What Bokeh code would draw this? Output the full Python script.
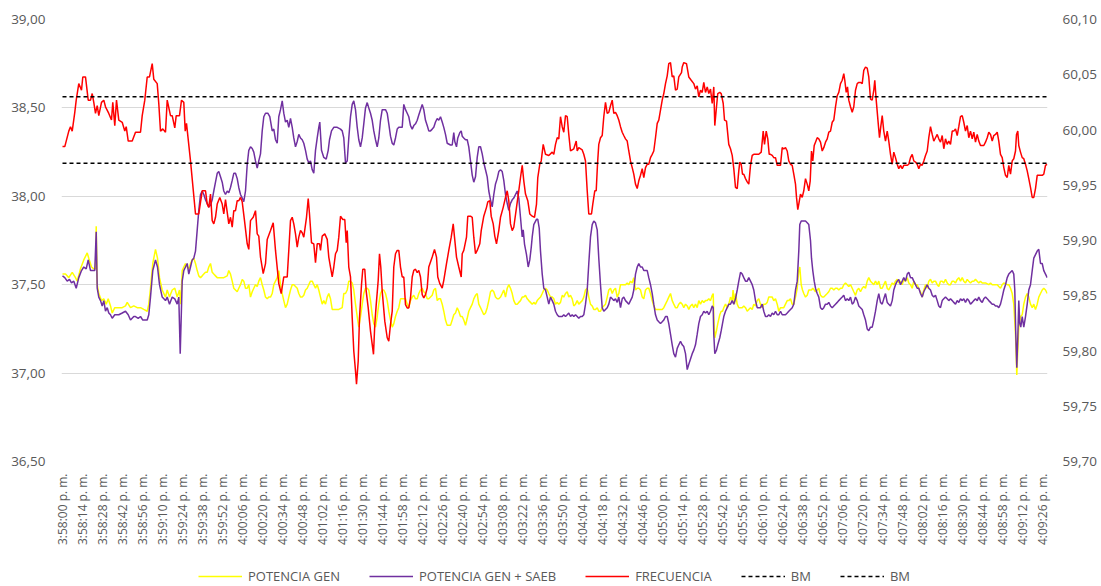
import math
from bokeh.plotting import figure
from bokeh.layouts import column
from bokeh.models import (Range1d, LinearAxis, FixedTicker, Legend, LegendItem,
                          ColumnDataSource, CustomJSTickFormatter)
from bokeh.embed import file_html
from bokeh.resources import INLINE

# ---------------- data (seconds after 3:58:00 p. m., value) ----------------
time_labels = [
    "3:58:00 p. m.", "3:58:14 p. m.", "3:58:28 p. m.", "3:58:42 p. m.", "3:58:56 p. m.",
    "3:59:10 p. m.", "3:59:24 p. m.", "3:59:38 p. m.", "3:59:52 p. m.", "4:00:06 p. m.",
    "4:00:20 p. m.", "4:00:34 p. m.", "4:00:48 p. m.", "4:01:02 p. m.", "4:01:16 p. m.",
    "4:01:30 p. m.", "4:01:44 p. m.", "4:01:58 p. m.", "4:02:12 p. m.", "4:02:26 p. m.",
    "4:02:40 p. m.", "4:02:54 p. m.", "4:03:08 p. m.", "4:03:22 p. m.", "4:03:36 p. m.",
    "4:03:50 p. m.", "4:04:04 p. m.", "4:04:18 p. m.", "4:04:32 p. m.", "4:04:46 p. m.",
    "4:05:00 p. m.", "4:05:14 p. m.", "4:05:28 p. m.", "4:05:42 p. m.", "4:05:56 p. m.",
    "4:06:10 p. m.", "4:06:24 p. m.", "4:06:38 p. m.", "4:06:52 p. m.", "4:07:06 p. m.",
    "4:07:20 p. m.", "4:07:34 p. m.", "4:07:48 p. m.", "4:08:02 p. m.", "4:08:16 p. m.",
    "4:08:30 p. m.", "4:08:44 p. m.", "4:08:58 p. m.", "4:09:12 p. m.", "4:09:26 p. m.",
]
label_step_s = 14

left_ticks = [36.50, 37.00, 37.50, 38.00, 38.50, 39.00]
right_ticks = [59.70, 59.75, 59.80, 59.85, 59.90, 59.95, 60.00, 60.05, 60.10]

bm_levels = [60.03, 59.97]

potencia_gen = [
    (0, 37.56), (2.1, 37.56), (4.4, 37.54), (6.8, 37.57), (9.1, 37.54), (10.3, 37.52),
    (12.6, 37.59), (14.9, 37.64), (17.3, 37.68), (18.4, 37.65), (20.3, 37.60), (21.9, 37.59),
    (23.1, 37.59), (23.6, 37.83), (24.3, 37.50), (25.4, 37.45), (27.3, 37.41), (28.9, 37.42),
    (30.6, 37.39), (32.0, 37.42), (33.6, 37.38), (34.8, 37.34), (36.6, 37.37), (39.4, 37.37),
    (41.8, 37.37), (44.1, 37.38), (45.3, 37.40), (47.6, 37.37), (49.9, 37.38), (52.3, 37.37),
    (54.6, 37.37), (56.9, 37.36), (59.3, 37.35), (60.4, 37.39), (61.6, 37.48), (63.2, 37.62),
    (65.1, 37.70), (66.5, 37.65), (67.9, 37.54), (69.8, 37.47), (72.1, 37.43), (73.3, 37.47),
    (74.9, 37.43), (76.8, 37.47), (78.6, 37.48), (80.3, 37.43), (81.9, 37.47), (82.8, 37.39),
    (83.8, 37.58), (84.9, 37.60), (86.1, 37.62), (87.3, 37.60), (88.4, 37.59), (89.6, 37.62),
    (90.8, 37.64), (91.9, 37.65), (93.1, 37.62), (94.3, 37.58), (95.4, 37.55), (96.6, 37.54),
    (97.8, 37.55), (98.9, 37.56), (100.1, 37.57), (101.3, 37.57), (102.4, 37.60), (103.6, 37.62),
    (104.8, 37.57), (105.9, 37.56), (107.1, 37.55), (108.3, 37.54), (110.6, 37.54), (112.9, 37.54),
    (115.3, 37.55), (116.4, 37.58), (117.6, 37.56), (118.8, 37.52), (119.9, 37.48), (121.1, 37.47),
    (122.3, 37.46), (123.4, 37.48), (124.6, 37.50), (125.8, 37.53), (126.9, 37.52), (128.1, 37.48),
    (129.3, 37.48), (130.4, 37.50), (131.6, 37.43), (132.8, 37.46), (133.9, 37.48), (135.1, 37.50),
    (136.3, 37.49), (137.4, 37.52), (138.6, 37.54), (139.8, 37.50), (140.9, 37.47), (142.1, 37.43),
    (143.3, 37.42), (144.4, 37.43), (145.6, 37.43), (146.8, 37.45), (147.9, 37.50), (149.1, 37.52),
    (150.3, 37.54), (151.4, 37.58), (152.6, 37.50), (153.8, 37.45), (154.9, 37.41), (156.1, 37.37),
    (157.3, 37.39), (158.4, 37.43), (159.6, 37.47), (160.8, 37.50), (161.9, 37.50), (163.1, 37.49),
    (164.3, 37.48), (165.4, 37.45), (166.6, 37.43), (167.8, 37.43), (168.9, 37.44), (170.1, 37.47),
    (171.3, 37.48), (172.4, 37.50), (173.6, 37.52), (174.8, 37.52), (175.9, 37.50), (177.1, 37.48),
    (178.3, 37.50), (179.4, 37.47), (180.6, 37.43), (181.8, 37.39), (182.9, 37.41), (184.1, 37.39),
    (185.3, 37.43), (186.4, 37.45), (187.6, 37.42), (188.8, 37.36), (191.1, 37.36), (193.4, 37.36),
    (195.8, 37.37), (196.9, 37.45), (198.1, 37.45), (199.3, 37.47), (200.4, 37.52), (201.6, 37.52),
    (202.8, 37.51), (203.9, 37.47), (205.1, 37.39), (206.3, 37.32), (207.4, 37.26), (208.6, 37.32),
    (209.8, 37.39), (210.9, 37.45), (212.1, 37.48), (213.3, 37.48), (214.4, 37.47), (215.6, 37.41),
    (216.8, 37.33), (217.9, 37.28), (219.1, 37.26), (220.3, 37.32), (221.4, 37.39), (222.6, 37.45),
    (223.8, 37.47), (224.9, 37.47), (226.1, 37.45), (227.3, 37.41), (228.4, 37.35), (229.6, 37.30),
    (230.8, 37.26), (231.9, 37.28), (233.1, 37.32), (234.3, 37.35), (235.4, 37.37), (236.6, 37.42),
    (237.8, 37.42), (240.1, 37.42), (241.3, 37.39), (242.4, 37.37), (243.6, 37.41), (244.8, 37.43),
    (245.9, 37.44), (247.1, 37.42), (248.3, 37.42), (249.4, 37.45), (250.6, 37.47), (251.8, 37.48),
    (252.9, 37.46), (254.1, 37.45), (255.3, 37.42), (256.4, 37.42), (257.6, 37.43), (258.8, 37.44),
    (259.9, 37.47), (261.1, 37.48), (262.3, 37.41), (263.4, 37.42), (264.6, 37.42), (265.8, 37.39),
    (266.9, 37.35), (268.1, 37.30), (269.3, 37.27), (270.4, 37.27), (271.6, 37.27), (272.8, 37.30),
    (273.9, 37.33), (275.1, 37.34), (276.3, 37.37), (277.4, 37.35), (278.6, 37.32), (279.8, 37.32),
    (280.9, 37.30), (282.1, 37.27), (283.3, 37.31), (284.4, 37.35), (285.6, 37.37), (286.8, 37.39),
    (287.9, 37.42), (289.1, 37.44), (290.3, 37.45), (291.4, 37.39), (292.6, 37.37), (293.8, 37.35),
    (294.9, 37.33), (296.1, 37.34), (297.3, 37.37), (298.4, 37.41), (299.6, 37.46), (300.8, 37.47),
    (301.9, 37.46), (303.1, 37.43), (304.3, 37.42), (305.4, 37.42), (306.6, 37.43), (307.8, 37.45),
    (308.9, 37.47), (310.1, 37.43), (311.3, 37.48), (312.4, 37.50), (313.6, 37.48), (314.8, 37.45),
    (315.9, 37.41), (317.1, 37.39), (318.3, 37.39), (319.4, 37.40), (320.6, 37.41), (321.8, 37.43),
    (322.9, 37.43), (324.1, 37.44), (325.3, 37.42), (326.4, 37.41), (327.6, 37.40), (328.8, 37.39),
    (329.9, 37.40), (331.1, 37.39), (332.3, 37.41), (333.4, 37.42), (334.6, 37.43), (335.8, 37.45),
    (336.9, 37.47), (338.1, 37.48), (339.3, 37.47), (340.4, 37.45), (341.6, 37.43), (342.8, 37.43),
    (343.9, 37.42), (345.1, 37.39), (346.3, 37.40), (347.4, 37.39), (348.6, 37.40), (349.8, 37.44),
    (350.9, 37.43), (352.1, 37.45), (353.3, 37.46), (354.4, 37.43), (355.6, 37.44), (356.8, 37.42),
    (357.9, 37.38), (359.1, 37.39), (360.3, 37.41), (361.4, 37.39), (362.6, 37.40), (363.8, 37.41),
    (364.9, 37.43), (366.1, 37.47), (367.3, 37.48), (368.4, 37.43), (369.6, 37.39), (370.8, 37.38),
    (371.9, 37.36), (373.1, 37.36), (374.3, 37.37), (375.4, 37.35), (376.6, 37.35), (377.8, 37.37),
    (378.9, 37.38), (380.1, 37.39), (381.3, 37.43), (382.4, 37.47), (383.6, 37.48), (384.8, 37.45),
    (385.9, 37.47), (387.1, 37.48), (388.3, 37.43), (389.4, 37.45), (390.6, 37.50), (391.8, 37.50),
    (392.9, 37.50), (394.1, 37.50), (395.3, 37.51), (396.4, 37.50), (397.6, 37.52), (398.8, 37.51),
    (399.9, 37.54), (401.1, 37.47), (402.3, 37.48), (403.4, 37.48), (404.6, 37.47), (405.8, 37.43),
    (406.9, 37.42), (408.1, 37.47), (409.3, 37.48), (410.4, 37.48), (411.6, 37.45), (412.8, 37.41),
    (413.9, 37.38), (415.1, 37.36), (416.3, 37.36), (418.6, 37.36), (419.8, 37.36), (420.9, 37.37),
    (422.1, 37.39), (423.3, 37.41), (424.4, 37.43), (425.6, 37.45), (426.8, 37.41), (427.9, 37.39),
    (429.1, 37.37), (430.3, 37.37), (431.4, 37.39), (432.6, 37.40), (433.8, 37.39), (434.9, 37.37),
    (436.1, 37.39), (437.3, 37.38), (438.4, 37.36), (439.6, 37.38), (440.8, 37.39), (441.9, 37.37),
    (443.1, 37.39), (444.3, 37.37), (445.4, 37.41), (446.6, 37.39), (447.8, 37.41), (448.9, 37.40),
    (450.1, 37.41), (451.3, 37.41), (452.4, 37.42), (453.6, 37.41), (454.8, 37.44), (455.5, 37.45),
    (455.9, 37.32), (456.6, 37.20), (457.8, 37.24), (458.7, 37.28), (460.1, 37.33), (461.1, 37.35),
    (462.0, 37.35), (462.9, 37.37), (464.1, 37.39), (465.3, 37.37), (466.4, 37.39), (467.6, 37.43),
    (468.8, 37.41), (469.4, 37.47), (470.4, 37.39), (471.1, 37.45), (472.3, 37.39), (473.4, 37.37),
    (475.8, 37.37), (476.9, 37.38), (478.1, 37.37), (479.3, 37.35), (480.4, 37.36), (481.6, 37.37),
    (482.8, 37.36), (483.9, 37.39), (485.1, 37.38), (486.3, 37.41), (487.4, 37.42), (488.6, 37.39),
    (489.8, 37.37), (490.9, 37.39), (492.1, 37.39), (493.3, 37.40), (494.4, 37.43), (495.6, 37.43),
    (496.8, 37.43), (497.9, 37.41), (499.1, 37.42), (500.3, 37.39), (501.4, 37.35), (502.6, 37.37),
    (504.9, 37.37), (506.1, 37.39), (507.3, 37.41), (508.4, 37.41), (509.6, 37.42), (510.8, 37.39),
    (511.9, 37.39), (513.1, 37.43), (514.3, 37.48), (515.4, 37.58), (516.1, 37.60), (517.1, 37.50),
    (518.0, 37.47), (518.9, 37.45), (520.1, 37.43), (521.3, 37.44), (522.4, 37.47), (523.6, 37.47),
    (524.3, 37.47), (525.2, 37.48), (526.2, 37.47), (527.1, 37.46), (528.3, 37.47), (529.4, 37.48),
    (530.6, 37.44), (531.8, 37.43), (532.9, 37.43), (534.1, 37.44), (535.3, 37.45), (536.4, 37.46),
    (537.6, 37.48), (538.8, 37.48), (539.9, 37.47), (541.1, 37.48), (542.3, 37.48), (543.4, 37.47),
    (544.6, 37.48), (545.8, 37.48), (546.9, 37.50), (548.1, 37.51), (549.3, 37.50), (550.4, 37.49),
    (551.6, 37.50), (552.8, 37.48), (553.9, 37.46), (555.1, 37.44), (556.3, 37.47), (557.4, 37.48),
    (558.6, 37.46), (559.8, 37.48), (560.9, 37.49), (562.1, 37.48), (563.3, 37.52), (564.4, 37.54),
    (565.6, 37.52), (566.8, 37.51), (567.9, 37.50), (569.1, 37.52), (570.3, 37.50), (571.4, 37.52),
    (572.6, 37.48), (573.8, 37.48), (574.9, 37.50), (576.1, 37.52), (577.3, 37.48), (578.4, 37.47),
    (579.6, 37.49), (580.8, 37.51), (581.9, 37.50), (583.1, 37.52), (584.3, 37.53), (585.4, 37.51),
    (586.6, 37.52), (587.8, 37.50), (588.9, 37.53), (590.1, 37.52), (591.3, 37.54), (592.4, 37.51),
    (593.6, 37.50), (594.8, 37.48), (595.9, 37.52), (597.1, 37.50), (598.3, 37.50), (599.4, 37.48),
    (600.6, 37.46), (601.8, 37.43), (602.9, 37.47), (604.1, 37.50), (605.3, 37.48), (606.4, 37.52),
    (607.6, 37.53), (608.8, 37.51), (609.9, 37.52), (611.1, 37.52), (612.3, 37.50), (613.4, 37.49),
    (614.6, 37.52), (615.8, 37.52), (616.9, 37.51), (618.1, 37.53), (619.3, 37.51), (620.4, 37.50),
    (621.6, 37.50), (622.8, 37.52), (623.9, 37.52), (625.1, 37.51), (626.3, 37.53), (627.4, 37.54),
    (628.6, 37.52), (629.8, 37.54), (630.9, 37.52), (632.1, 37.51), (633.3, 37.53), (634.4, 37.52),
    (635.6, 37.51), (636.8, 37.52), (637.9, 37.52), (639.1, 37.53), (640.3, 37.52), (641.4, 37.51),
    (642.6, 37.52), (643.8, 37.51), (646.1, 37.51), (648.4, 37.50), (649.6, 37.51), (650.8, 37.50),
    (654.3, 37.50), (655.4, 37.49), (656.6, 37.48), (657.8, 37.50), (658.9, 37.51), (661.3, 37.50),
    (662.4, 37.50), (663.6, 37.48), (664.8, 37.45), (665.9, 37.39), (667.1, 37.22), (668.0, 36.99),
    (668.7, 37.13), (669.4, 37.26), (670.6, 37.32), (671.8, 37.33), (672.9, 37.39), (674.1, 37.43),
    (675.3, 37.45), (676.4, 37.43), (677.6, 37.39), (678.8, 37.37), (679.9, 37.39), (681.1, 37.36),
    (682.3, 37.39), (683.4, 37.43), (684.6, 37.45), (685.8, 37.47), (686.9, 37.48), (688.1, 37.47),
    (689.3, 37.45),
]

potencia_gen_saeb = [
    (0, 37.55), (1.6, 37.54), (3.3, 37.52), (4.9, 37.53), (6.3, 37.51), (7.9, 37.52), (9.6, 37.48),
    (11.4, 37.54), (13.3, 37.58), (14.9, 37.60), (16.6, 37.59), (18.0, 37.64), (19.6, 37.58),
    (21.2, 37.58), (22.6, 37.58), (23.6, 37.80), (24.3, 37.48), (25.4, 37.43), (26.6, 37.41),
    (27.8, 37.38), (28.9, 37.41), (30.1, 37.35), (31.3, 37.37), (32.4, 37.34), (33.6, 37.33),
    (34.8, 37.31), (36.6, 37.33), (39.4, 37.33), (41.8, 37.34), (44.1, 37.35), (46.0, 37.33),
    (47.6, 37.30), (49.9, 37.32), (51.1, 37.32), (53.0, 37.31), (54.6, 37.32), (56.2, 37.30),
    (58.1, 37.30), (59.3, 37.30), (60.4, 37.33), (61.6, 37.43), (63.2, 37.58), (65.1, 37.64),
    (66.5, 37.60), (67.9, 37.50), (69.8, 37.43), (72.1, 37.41), (73.3, 37.43), (74.9, 37.39),
    (76.8, 37.43), (78.6, 37.42), (80.3, 37.39), (81.4, 37.43), (82.4, 37.11), (83.8, 37.52),
    (84.9, 37.58), (86.1, 37.60), (87.3, 37.62), (88.4, 37.56), (89.6, 37.60), (90.8, 37.64),
    (91.9, 37.65), (93.1, 37.69), (94.3, 37.81), (95.4, 37.92), (96.6, 38.01), (97.8, 38.03),
    (98.9, 38.01), (100.1, 37.98), (101.3, 37.96), (102.4, 37.94), (103.6, 37.95), (104.8, 37.98),
    (105.9, 38.03), (107.1, 38.08), (108.3, 38.13), (109.4, 38.14), (110.6, 38.11), (111.8, 38.08),
    (112.9, 38.03), (114.1, 38.01), (115.3, 38.03), (116.4, 38.02), (117.6, 38.05), (118.8, 38.09),
    (119.9, 38.13), (121.1, 38.13), (122.3, 38.10), (123.4, 38.05), (124.6, 38.01), (125.8, 37.99),
    (126.9, 37.97), (128.1, 38.03), (129.3, 38.18), (130.4, 38.26), (131.6, 38.28), (132.8, 38.27),
    (133.9, 38.25), (135.1, 38.20), (136.3, 38.16), (137.4, 38.20), (138.6, 38.24), (139.8, 38.37),
    (140.9, 38.45), (142.1, 38.47), (143.7, 38.47), (145.1, 38.45), (146.8, 38.37), (147.9, 38.38),
    (149.1, 38.32), (150.3, 38.30), (151.4, 38.45), (152.6, 38.49), (153.8, 38.54), (154.9, 38.47),
    (156.1, 38.42), (157.3, 38.43), (158.4, 38.39), (159.6, 38.44), (160.8, 38.39), (161.9, 38.33),
    (163.1, 38.28), (164.3, 38.31), (165.4, 38.35), (166.6, 38.33), (167.8, 38.32), (168.9, 38.30),
    (170.1, 38.26), (171.3, 38.21), (172.4, 38.19), (173.6, 38.20), (174.8, 38.15), (175.9, 38.13),
    (177.1, 38.26), (178.3, 38.33), (179.4, 38.39), (180.1, 38.42), (181.3, 38.26), (182.9, 38.22),
    (184.6, 38.21), (186.0, 38.26), (186.9, 38.32), (188.3, 38.37), (189.9, 38.39), (192.3, 38.39),
    (194.6, 38.38), (195.8, 38.37), (196.9, 38.33), (198.1, 38.19), (199.3, 38.20), (200.4, 38.33),
    (201.6, 38.45), (202.8, 38.52), (203.9, 38.54), (205.1, 38.49), (206.3, 38.39), (207.4, 38.32),
    (208.6, 38.28), (209.8, 38.33), (210.9, 38.41), (212.1, 38.50), (213.3, 38.53), (214.4, 38.50),
    (215.6, 38.47), (216.8, 38.43), (217.9, 38.37), (219.1, 38.32), (220.3, 38.28), (221.4, 38.33),
    (222.6, 38.43), (223.8, 38.49), (224.9, 38.49), (226.1, 38.49), (227.3, 38.47), (228.4, 38.41),
    (229.6, 38.34), (230.8, 38.30), (231.9, 38.29), (233.1, 38.33), (234.3, 38.38), (235.4, 38.39),
    (237.8, 38.39), (238.9, 38.52), (240.1, 38.49), (241.3, 38.47), (242.4, 38.45), (243.6, 38.40),
    (244.8, 38.38), (245.9, 38.40), (247.1, 38.41), (248.3, 38.43), (249.4, 38.46), (250.6, 38.49),
    (251.8, 38.52), (252.9, 38.49), (254.1, 38.43), (255.3, 38.40), (256.4, 38.37), (257.6, 38.37),
    (258.8, 38.38), (259.9, 38.39), (261.1, 38.42), (262.3, 38.44), (263.4, 38.43), (264.6, 38.45),
    (265.8, 38.42), (266.9, 38.39), (268.1, 38.35), (269.3, 38.30), (271.6, 38.29), (272.8, 38.29),
    (273.9, 38.36), (274.6, 38.31), (275.8, 38.28), (276.7, 38.33), (278.1, 38.36), (279.1, 38.37),
    (279.8, 38.34), (280.9, 38.33), (282.1, 38.32), (283.3, 38.32), (284.4, 38.28), (285.6, 38.20),
    (286.8, 38.12), (287.9, 38.08), (289.1, 38.11), (290.3, 38.22), (291.4, 38.28), (292.6, 38.28),
    (293.8, 38.24), (294.9, 38.19), (296.1, 38.15), (297.3, 38.11), (298.4, 38.03), (299.6, 37.98),
    (300.8, 37.94), (301.9, 38.01), (303.1, 38.07), (304.3, 38.10), (305.4, 38.14), (306.6, 38.15),
    (307.8, 38.14), (308.9, 38.09), (310.1, 38.01), (311.3, 37.96), (312.4, 37.92), (313.6, 37.96),
    (314.8, 37.98), (315.9, 37.99), (317.1, 38.01), (318.3, 38.03), (319.4, 37.99), (320.6, 37.88),
    (321.8, 37.77), (322.5, 37.81), (323.4, 37.73), (324.8, 37.67), (326.0, 37.60), (327.1, 37.64),
    (328.1, 37.71), (328.8, 37.77), (329.9, 37.84), (331.8, 37.87), (332.7, 37.87), (333.7, 37.82),
    (334.6, 37.69), (335.8, 37.56), (336.9, 37.48), (338.1, 37.47), (339.3, 37.43), (340.4, 37.39),
    (341.6, 37.43), (342.8, 37.41), (343.9, 37.39), (345.1, 37.35), (346.3, 37.33), (347.4, 37.32),
    (348.6, 37.32), (349.8, 37.32), (350.9, 37.33), (352.1, 37.32), (353.3, 37.33), (354.4, 37.34),
    (355.6, 37.32), (356.8, 37.33), (357.9, 37.32), (359.1, 37.33), (360.3, 37.32), (361.4, 37.31),
    (362.6, 37.32), (363.8, 37.32), (364.9, 37.33), (366.1, 37.39), (367.3, 37.47), (368.4, 37.62),
    (369.6, 37.77), (370.8, 37.84), (371.9, 37.86), (373.1, 37.85), (374.3, 37.81), (375.4, 37.65),
    (376.6, 37.50), (377.8, 37.37), (378.9, 37.35), (380.1, 37.36), (381.3, 37.37), (382.4, 37.39),
    (383.6, 37.43), (384.8, 37.42), (385.9, 37.41), (387.1, 37.42), (388.3, 37.40), (389.4, 37.43),
    (390.6, 37.37), (391.8, 37.42), (392.9, 37.43), (394.1, 37.41), (395.3, 37.40), (396.4, 37.39),
    (397.6, 37.41), (398.8, 37.43), (399.9, 37.47), (401.1, 37.56), (402.3, 37.60), (403.4, 37.62),
    (404.6, 37.60), (405.8, 37.60), (406.9, 37.58), (408.1, 37.58), (409.3, 37.58), (410.4, 37.54),
    (411.6, 37.50), (412.8, 37.45), (413.9, 37.39), (415.1, 37.33), (416.3, 37.30), (417.4, 37.29),
    (418.6, 37.28), (419.8, 37.29), (420.9, 37.30), (422.1, 37.32), (423.3, 37.32), (424.4, 37.28),
    (425.6, 37.22), (426.8, 37.16), (427.9, 37.11), (429.1, 37.09), (430.3, 37.14), (431.4, 37.16),
    (432.6, 37.18), (433.8, 37.16), (434.9, 37.15), (436.1, 37.11), (437.3, 37.02), (438.4, 37.05),
    (439.6, 37.08), (440.8, 37.11), (441.9, 37.13), (443.1, 37.16), (444.3, 37.22), (445.4, 37.28),
    (446.6, 37.32), (447.8, 37.33), (448.9, 37.35), (450.1, 37.34), (451.3, 37.35), (452.4, 37.33),
    (453.6, 37.35), (454.8, 37.38), (455.5, 37.37), (455.9, 37.22), (456.6, 37.11), (457.8, 37.13),
    (458.7, 37.16), (460.1, 37.20), (461.1, 37.24), (462.0, 37.28), (462.9, 37.32), (464.1, 37.35),
    (465.3, 37.37), (466.4, 37.39), (467.6, 37.39), (468.8, 37.41), (469.9, 37.39), (471.1, 37.42),
    (472.3, 37.47), (473.4, 37.52), (474.6, 37.57), (475.8, 37.56), (476.9, 37.54), (478.1, 37.52),
    (479.3, 37.52), (480.4, 37.54), (481.6, 37.52), (482.8, 37.50), (483.9, 37.47), (485.1, 37.41),
    (486.3, 37.37), (487.4, 37.37), (488.6, 37.37), (489.8, 37.39), (490.9, 37.35), (492.1, 37.32),
    (493.3, 37.32), (494.4, 37.33), (495.6, 37.32), (496.8, 37.34), (497.9, 37.33), (499.1, 37.35),
    (500.3, 37.33), (501.4, 37.33), (502.6, 37.35), (503.8, 37.33), (504.9, 37.33), (506.1, 37.33),
    (507.3, 37.34), (508.4, 37.35), (509.6, 37.36), (510.8, 37.37), (511.9, 37.39), (513.1, 37.47),
    (514.3, 37.52), (515.4, 37.69), (516.1, 37.84), (517.1, 37.86), (518.5, 37.86), (520.1, 37.86),
    (521.3, 37.85), (522.4, 37.84), (523.6, 37.75), (524.3, 37.65), (525.2, 37.58), (526.2, 37.52),
    (527.1, 37.48), (528.3, 37.45), (529.4, 37.43), (530.6, 37.37), (531.8, 37.36), (532.9, 37.37),
    (534.1, 37.39), (535.3, 37.39), (536.4, 37.40), (537.6, 37.38), (538.8, 37.37), (539.9, 37.38),
    (541.1, 37.39), (542.3, 37.40), (543.4, 37.41), (544.6, 37.42), (545.8, 37.43), (546.9, 37.44),
    (548.1, 37.41), (549.3, 37.42), (550.4, 37.41), (551.6, 37.43), (552.8, 37.39), (553.9, 37.40),
    (555.1, 37.43), (556.3, 37.41), (557.4, 37.38), (558.6, 37.37), (559.8, 37.36), (560.9, 37.33),
    (562.1, 37.30), (563.3, 37.25), (564.4, 37.24), (565.6, 37.26), (566.8, 37.26), (567.9, 37.30),
    (569.1, 37.35), (570.3, 37.41), (571.4, 37.45), (572.6, 37.40), (573.8, 37.39), (574.9, 37.42),
    (576.1, 37.45), (577.3, 37.40), (578.4, 37.39), (579.6, 37.38), (580.8, 37.41), (581.9, 37.47),
    (583.1, 37.50), (584.3, 37.52), (585.4, 37.53), (586.6, 37.50), (587.8, 37.52), (588.9, 37.54),
    (590.1, 37.52), (591.3, 37.56), (592.4, 37.57), (593.6, 37.54), (594.8, 37.54), (595.9, 37.52),
    (597.1, 37.50), (598.3, 37.48), (599.4, 37.48), (600.6, 37.45), (601.8, 37.43), (602.9, 37.46),
    (604.1, 37.48), (605.3, 37.50), (606.4, 37.48), (607.6, 37.47), (608.8, 37.44), (609.9, 37.43),
    (611.1, 37.44), (612.3, 37.41), (613.4, 37.38), (614.6, 37.37), (615.8, 37.41), (616.9, 37.42),
    (618.1, 37.43), (619.3, 37.42), (620.4, 37.41), (621.6, 37.42), (622.8, 37.41), (623.9, 37.40),
    (625.1, 37.39), (626.3, 37.41), (627.4, 37.40), (628.6, 37.42), (629.8, 37.41), (630.9, 37.42),
    (632.1, 37.40), (633.3, 37.42), (634.4, 37.41), (635.6, 37.39), (636.8, 37.40), (637.9, 37.41),
    (639.1, 37.42), (640.3, 37.41), (641.4, 37.43), (642.6, 37.41), (643.8, 37.40), (644.9, 37.42),
    (646.1, 37.43), (647.3, 37.42), (648.4, 37.41), (649.6, 37.40), (650.8, 37.39), (651.9, 37.39),
    (653.1, 37.38), (654.3, 37.38), (655.4, 37.37), (656.6, 37.39), (657.8, 37.43), (658.9, 37.47),
    (660.1, 37.50), (661.3, 37.54), (662.4, 37.56), (663.6, 37.57), (664.8, 37.58), (665.9, 37.56),
    (666.6, 37.47), (667.3, 37.22), (668.0, 37.03), (668.7, 37.20), (669.4, 37.41), (670.1, 37.28),
    (670.8, 37.26), (671.8, 37.32), (672.9, 37.26), (674.1, 37.32), (675.3, 37.39), (676.4, 37.47),
    (677.6, 37.50), (678.8, 37.58), (679.9, 37.65), (681.1, 37.67), (682.3, 37.69), (683.4, 37.70),
    (684.6, 37.62), (685.8, 37.62), (686.9, 37.58), (688.1, 37.56), (689.3, 37.54),
]

frecuencia = [
    (0, 59.985), (1.6, 59.985), (4.4, 59.999), (5.6, 60.003), (6.8, 59.999), (8.6, 60.016),
    (9.6, 60.027), (11.4, 60.042), (13.3, 60.036), (14.2, 60.048), (16.1, 60.048), (18.0, 60.027),
    (19.6, 60.027), (20.8, 60.033), (21.9, 60.025), (23.1, 60.015), (24.3, 60.022), (25.4, 60.013),
    (27.3, 60.025), (28.9, 60.027), (30.1, 60.021), (32.4, 60.015), (34.3, 60.009), (35.2, 60.025),
    (36.6, 60.004), (37.8, 60.027), (39.4, 60.009), (41.8, 60.007), (43.6, 59.999), (44.6, 60.003),
    (46.0, 59.990), (48.8, 59.990), (51.1, 59.998), (54.6, 59.998), (55.8, 60.013), (57.6, 60.027),
    (59.3, 60.048), (60.9, 60.048), (62.8, 60.060), (63.9, 60.046), (66.3, 60.042), (67.4, 60.024),
    (68.6, 59.999), (70.2, 60.001), (72.1, 59.998), (73.3, 60.027), (75.6, 60.013), (76.8, 60.013),
    (78.6, 60.002), (79.6, 60.013), (81.9, 60.013), (83.3, 60.027), (84.9, 60.025), (85.9, 59.999),
    (86.8, 60.006), (89.6, 59.972), (93.1, 59.924), (95.4, 59.924), (97.8, 59.945), (100.1, 59.945),
    (101.3, 59.933), (102.4, 59.930), (103.6, 59.942), (104.8, 59.918), (105.9, 59.915), (107.1, 59.921),
    (108.3, 59.933), (110.1, 59.939), (111.8, 59.933), (112.9, 59.924), (114.1, 59.937), (116.4, 59.915),
    (117.6, 59.921), (118.8, 59.912), (119.9, 59.927), (121.1, 59.927), (122.3, 59.936), (123.4, 59.936),
    (124.6, 59.939), (125.8, 59.935), (127.4, 59.918), (129.3, 59.897), (130.4, 59.892), (131.6, 59.918),
    (133.5, 59.921), (135.1, 59.927), (136.3, 59.906), (137.4, 59.904), (138.6, 59.885), (140.5, 59.870),
    (142.1, 59.879), (143.3, 59.901), (145.6, 59.909), (147.5, 59.916), (149.1, 59.891), (151.4, 59.861),
    (153.1, 59.852), (154.9, 59.867), (157.3, 59.867), (158.4, 59.891), (159.6, 59.918), (160.8, 59.921),
    (161.9, 59.915), (163.1, 59.906), (164.3, 59.894), (165.4, 59.903), (166.6, 59.909), (167.8, 59.907),
    (168.9, 59.903), (170.8, 59.921), (172.0, 59.938), (172.9, 59.924), (174.3, 59.898), (175.9, 59.897),
    (177.1, 59.880), (178.3, 59.897), (179.9, 59.897), (180.6, 59.891), (181.8, 59.904), (183.6, 59.906),
    (185.3, 59.901), (186.4, 59.885), (187.6, 59.876), (188.8, 59.867), (189.9, 59.876), (191.1, 59.888),
    (192.3, 59.891), (193.4, 59.903), (194.6, 59.922), (196.2, 59.919), (197.6, 59.919), (198.6, 59.898),
    (199.3, 59.909), (200.4, 59.876), (201.6, 59.867), (202.8, 59.830), (203.9, 59.800), (205.1, 59.782),
    (205.8, 59.770), (207.0, 59.791), (207.9, 59.830), (209.3, 59.860), (210.2, 59.874), (211.6, 59.874),
    (212.6, 59.854), (214.0, 59.839), (215.6, 59.818), (216.8, 59.806), (217.7, 59.797), (218.6, 59.824),
    (219.6, 59.842), (221.0, 59.864), (221.9, 59.888), (222.8, 59.876), (223.8, 59.854), (225.6, 59.827),
    (227.3, 59.812), (228.4, 59.809), (229.6, 59.824), (230.8, 59.836), (231.9, 59.876), (233.1, 59.888),
    (234.3, 59.891), (235.4, 59.891), (236.6, 59.876), (237.8, 59.867), (238.9, 59.867), (240.1, 59.842),
    (241.3, 59.839), (242.4, 59.839), (243.6, 59.848), (244.8, 59.867), (245.9, 59.873), (247.1, 59.874),
    (248.3, 59.871), (249.4, 59.873), (250.6, 59.867), (251.8, 59.851), (252.9, 59.848), (254.1, 59.851),
    (255.3, 59.857), (256.4, 59.876), (258.8, 59.885), (260.4, 59.892), (261.8, 59.885), (262.7, 59.867),
    (264.1, 59.861), (265.8, 59.857), (266.9, 59.864), (268.8, 59.879), (270.4, 59.891), (272.1, 59.903),
    (273.5, 59.915), (274.4, 59.903), (275.8, 59.885), (277.4, 59.876), (279.1, 59.867), (279.8, 59.888),
    (280.9, 59.891), (282.8, 59.903), (283.7, 59.922), (285.6, 59.922), (286.8, 59.921), (287.9, 59.903),
    (289.1, 59.888), (290.3, 59.891), (292.1, 59.897), (293.1, 59.909), (294.9, 59.922), (296.8, 59.930),
    (297.7, 59.935), (299.1, 59.936), (300.1, 59.922), (301.5, 59.915), (302.6, 59.904), (303.8, 59.897),
    (305.4, 59.909), (306.6, 59.921), (308.5, 59.930), (310.1, 59.939), (311.3, 59.945), (312.4, 59.936),
    (313.6, 59.915), (314.8, 59.909), (315.9, 59.912), (317.8, 59.930), (319.4, 59.945), (320.6, 59.957),
    (321.8, 59.968), (322.9, 59.954), (324.1, 59.942), (325.7, 59.936), (327.1, 59.924), (328.8, 59.922),
    (330.4, 59.921), (331.8, 59.933), (332.7, 59.957), (334.1, 59.969), (335.1, 59.972), (336.5, 59.987),
    (338.1, 59.978), (340.4, 59.977), (342.8, 59.980), (343.9, 59.978), (345.1, 59.987), (346.3, 59.993),
    (347.4, 59.992), (348.6, 60.012), (349.8, 60.003), (350.9, 59.998), (352.1, 60.013), (353.3, 60.012),
    (354.4, 59.996), (355.6, 59.981), (357.9, 59.983), (359.6, 59.990), (360.3, 59.981), (361.4, 59.984),
    (363.8, 59.982), (364.9, 59.978), (366.1, 59.972), (367.3, 59.945), (368.4, 59.924), (370.3, 59.924),
    (371.2, 59.933), (372.6, 59.945), (373.6, 59.945), (374.5, 59.969), (375.4, 59.987), (376.6, 59.993),
    (377.8, 59.995), (378.9, 60.012), (380.1, 60.025), (381.3, 60.015), (382.4, 60.016), (383.6, 60.022),
    (384.8, 60.027), (385.9, 60.015), (387.1, 60.016), (388.3, 60.013), (389.4, 60.009), (390.6, 60.003),
    (391.8, 59.998), (392.9, 59.995), (394.1, 59.992), (395.3, 59.990), (396.4, 59.981), (397.6, 59.972),
    (398.8, 59.966), (399.9, 59.960), (401.1, 59.951), (402.3, 59.947), (403.4, 59.954), (404.6, 59.959),
    (405.8, 59.965), (406.9, 59.957), (408.1, 59.966), (409.3, 59.969), (410.4, 59.969), (411.6, 59.975),
    (412.8, 59.978), (413.9, 59.981), (415.1, 59.993), (416.3, 60.006), (417.4, 60.009), (418.6, 60.018),
    (419.8, 60.027), (420.9, 60.033), (422.1, 60.042), (423.3, 60.049), (424.4, 60.060), (425.6, 60.061),
    (426.8, 60.048), (427.9, 60.049), (429.1, 60.036), (430.3, 60.037), (431.4, 60.048), (433.3, 60.052),
    (433.8, 60.057), (434.9, 60.061), (436.8, 60.060), (438.4, 60.048), (440.1, 60.045), (441.9, 60.042),
    (443.1, 60.037), (444.3, 60.040), (445.4, 60.030), (446.6, 60.036), (447.8, 60.034), (448.9, 60.043),
    (450.1, 60.034), (451.3, 60.039), (452.4, 60.033), (453.6, 60.037), (454.8, 60.024), (455.9, 60.039),
    (456.6, 60.004), (457.8, 60.021), (458.7, 60.033), (460.1, 60.034), (461.1, 60.033), (462.5, 60.024),
    (463.4, 60.009), (464.8, 60.008), (466.4, 59.987), (467.6, 59.983), (468.8, 59.977), (469.9, 59.965),
    (471.1, 59.948), (472.3, 59.947), (473.4, 59.963), (474.1, 59.971), (475.1, 59.969), (476.0, 59.960),
    (476.9, 59.960), (478.1, 59.956), (479.3, 59.953), (480.4, 59.951), (481.6, 59.968), (482.8, 59.977),
    (483.9, 59.978), (485.8, 59.978), (487.4, 59.978), (489.1, 59.980), (490.5, 59.999), (491.4, 59.987),
    (492.6, 59.999), (493.7, 59.992), (494.7, 59.978), (495.6, 59.978), (496.8, 59.977), (497.9, 59.975),
    (499.1, 59.975), (500.3, 59.968), (501.4, 59.968), (502.6, 59.968), (503.8, 59.984), (504.9, 59.983),
    (506.1, 59.984), (507.3, 59.981), (508.4, 59.972), (509.6, 59.969), (510.8, 59.968), (511.9, 59.960),
    (513.1, 59.951), (513.8, 59.939), (514.7, 59.928), (515.4, 59.933), (516.6, 59.942), (517.8, 59.939),
    (518.9, 59.945), (520.1, 59.956), (521.3, 59.951), (522.4, 59.945), (523.4, 59.954), (524.3, 59.981),
    (525.2, 59.972), (526.2, 59.986), (527.1, 59.989), (528.3, 59.993), (529.4, 59.992), (530.6, 59.989),
    (531.8, 59.981), (532.9, 59.984), (534.1, 59.989), (535.3, 59.992), (536.4, 59.998), (537.6, 59.999),
    (538.8, 60.007), (539.9, 60.009), (541.1, 60.021), (542.3, 60.031), (543.4, 60.034), (544.6, 60.042),
    (545.8, 60.045), (546.9, 60.051), (547.6, 60.045), (548.6, 60.034), (549.5, 60.039), (550.4, 60.027),
    (551.6, 60.021), (552.8, 60.016), (553.9, 60.021), (555.1, 60.036), (556.3, 60.042), (557.4, 60.043),
    (558.6, 60.043), (559.8, 60.042), (560.9, 60.054), (562.1, 60.057), (563.3, 60.056), (564.4, 60.048),
    (565.6, 60.028), (566.8, 60.027), (567.9, 60.036), (568.6, 60.045), (569.6, 60.027), (571.0, 60.006),
    (571.9, 59.993), (572.8, 60.003), (573.8, 60.013), (574.9, 59.999), (576.1, 59.990), (577.3, 59.999),
    (578.4, 59.990), (579.6, 59.978), (580.8, 59.969), (581.9, 59.980), (583.1, 59.975), (584.3, 59.969),
    (585.4, 59.965), (586.6, 59.968), (587.8, 59.965), (588.9, 59.968), (591.3, 59.968), (592.4, 59.969),
    (593.6, 59.975), (594.8, 59.978), (595.9, 59.972), (597.1, 59.971), (598.3, 59.969), (599.4, 59.965),
    (600.6, 59.969), (601.8, 59.968), (602.9, 59.972), (604.1, 59.977), (605.3, 59.981), (606.4, 59.993),
    (607.6, 60.003), (608.8, 59.996), (609.9, 59.990), (611.1, 59.993), (612.3, 59.996), (613.4, 59.992),
    (614.6, 59.989), (615.8, 59.995), (616.9, 59.983), (618.1, 59.992), (619.3, 59.987), (620.4, 59.990),
    (621.6, 59.987), (622.8, 59.999), (623.9, 59.999), (625.1, 60.001), (626.3, 59.995), (627.4, 60.003),
    (628.6, 60.012), (629.8, 60.013), (630.9, 60.007), (632.1, 59.999), (633.3, 60.004), (634.4, 59.993),
    (635.6, 59.999), (636.8, 59.992), (637.9, 59.998), (639.1, 59.989), (640.3, 59.996), (641.4, 59.990),
    (642.6, 59.986), (644.9, 59.986), (646.1, 59.989), (647.3, 59.993), (648.4, 59.998), (649.6, 59.996),
    (650.8, 59.990), (651.9, 59.995), (653.1, 59.996), (654.3, 59.998), (655.4, 59.990), (656.6, 59.978),
    (657.8, 59.975), (658.9, 59.966), (660.1, 59.959), (661.3, 59.957), (662.4, 59.968), (663.6, 59.960),
    (664.8, 59.972), (665.9, 59.974), (667.1, 59.981), (667.8, 59.996), (668.7, 59.999), (669.4, 59.986),
    (670.6, 59.980), (671.8, 59.975), (672.9, 59.974), (674.1, 59.969), (675.3, 59.963), (676.4, 59.956),
    (677.6, 59.948), (678.8, 59.939), (679.9, 59.939), (681.1, 59.947), (682.3, 59.959), (685.8, 59.959),
    (686.9, 59.960), (688.1, 59.968), (689.3, 59.969),
]

# ---------------- styles ----------------
FONT = "Open Sans"
TXT = "#595959"
GRID = "#d9d9d9"
C_GEN, C_SAEB, C_FREQ, C_BM = "#FFFF00", "#7030A0", "#FF0000", "#000000"
LW = 1.5
W = 1101


def src(points):
    return ColumnDataSource(dict(t=[a for a, _ in points], v=[b for _, b in points]))


t_end = frecuencia[-1][0]
s_gen = src(potencia_gen)
s_saeb = src(potencia_gen_saeb)
s_freq = src(frecuencia)
s_bm = [src([(0, lvl), (t_end, lvl)]) for lvl in bm_levels]

p = figure(width=W, height=566, output_backend="svg", toolbar_location=None,
           x_range=Range1d(-0.7, 689.5), y_range=Range1d(left_ticks[0], left_ticks[-1]),
           min_border_left=61, min_border_right=54, min_border_top=19, min_border_bottom=105)
p.extra_y_ranges = {"f": Range1d(right_ticks[0], right_ticks[-1])}
p.outline_line_color = None
p.background_fill_color = "white"
p.border_fill_color = "white"

fmt = CustomJSTickFormatter(code="return tick.toFixed(2).replace('.', ',');")

ya = p.yaxis[0]
ya.ticker = FixedTicker(ticks=left_ticks)
ya.formatter = fmt
ra = LinearAxis(y_range_name="f", ticker=FixedTicker(ticks=right_ticks), formatter=fmt)
p.add_layout(ra, "right")

tick_pos = [i * label_step_s for i in range(len(time_labels))]
xa = p.xaxis[0]
xa.ticker = FixedTicker(ticks=tick_pos)
xa.major_label_overrides = {tp: lab for tp, lab in zip(tick_pos, time_labels)}
xa.major_label_orientation = math.pi / 2

for ax in (ya, ra, xa):
    ax.axis_line_color = None
    ax.major_tick_line_color = None
    ax.minor_tick_line_color = None
    ax.major_tick_out = 0
    ax.major_tick_in = 0
    ax.minor_tick_out = 0
    ax.major_label_text_font = FONT
    ax.major_label_text_color = TXT
ya.major_label_text_font_size = "13.5px"
ra.major_label_text_font_size = "13.5px"
ya.major_label_standoff = 16
ra.major_label_standoff = 15
xa.major_label_text_font_size = "12px"
xa.major_label_standoff = 12

p.xgrid.visible = False
p.ygrid.ticker = FixedTicker(ticks=left_ticks)
p.ygrid.grid_line_color = GRID
p.ygrid.grid_line_width = 1

p.line("t", "v", source=s_gen, line_color=C_GEN, line_width=LW)
p.line("t", "v", source=s_saeb, line_color=C_SAEB, line_width=LW)
p.line("t", "v", source=s_freq, line_color=C_FREQ, line_width=LW, y_range_name="f")
for s in s_bm:
    p.line("t", "v", source=s, line_color=C_BM, line_width=LW, line_dash="4 3",
           y_range_name="f")

# ---------------- legend strip below the chart ----------------
# The key renderers reuse the same sources; the strip's y range (0..1) lies far
# below every value, so only the legend keys are visible there.
lg = figure(width=W, height=20, output_backend="svg", toolbar_location=None,
            x_range=Range1d(0, 1), y_range=Range1d(0, 1),
            x_axis_location=None, y_axis_location=None, min_border=0)
lg.grid.visible = False
lg.outline_line_color = None
lg.background_fill_color = "white"
lg.border_fill_color = "white"
k_gen = lg.line("t", "v", source=s_gen, line_color=C_GEN, line_width=LW)
k_saeb = lg.line("t", "v", source=s_saeb, line_color=C_SAEB, line_width=LW)
k_freq = lg.line("t", "v", source=s_freq, line_color=C_FREQ, line_width=LW)
k_bm1 = lg.line("t", "v", source=s_bm[0], line_color=C_BM, line_width=LW, line_dash="4 3")
k_bm2 = lg.line("t", "v", source=s_bm[1], line_color=C_BM, line_width=LW, line_dash="4 3")

legend = Legend(items=[
    LegendItem(label="POTENCIA GEN", renderers=[k_gen]),
    LegendItem(label="POTENCIA GEN + SAEB", renderers=[k_saeb]),
    LegendItem(label="FRECUENCIA", renderers=[k_freq]),
    LegendItem(label="BM", renderers=[k_bm1]),
    LegendItem(label="BM", renderers=[k_bm2]),
], orientation="horizontal", location="center")
legend.label_text_font = FONT
legend.label_text_font_size = "13px"
legend.label_text_color = TXT
legend.glyph_width = 44
legend.glyph_height = 14
legend.label_standoff = 6
legend.spacing = 29
legend.padding = 0
legend.margin = 0
legend.border_line_color = None
legend.background_fill_alpha = 0
lg.add_layout(legend)

layout = column(p, lg, spacing=0)
open("out.html", "w").write(file_html(layout, INLINE))
